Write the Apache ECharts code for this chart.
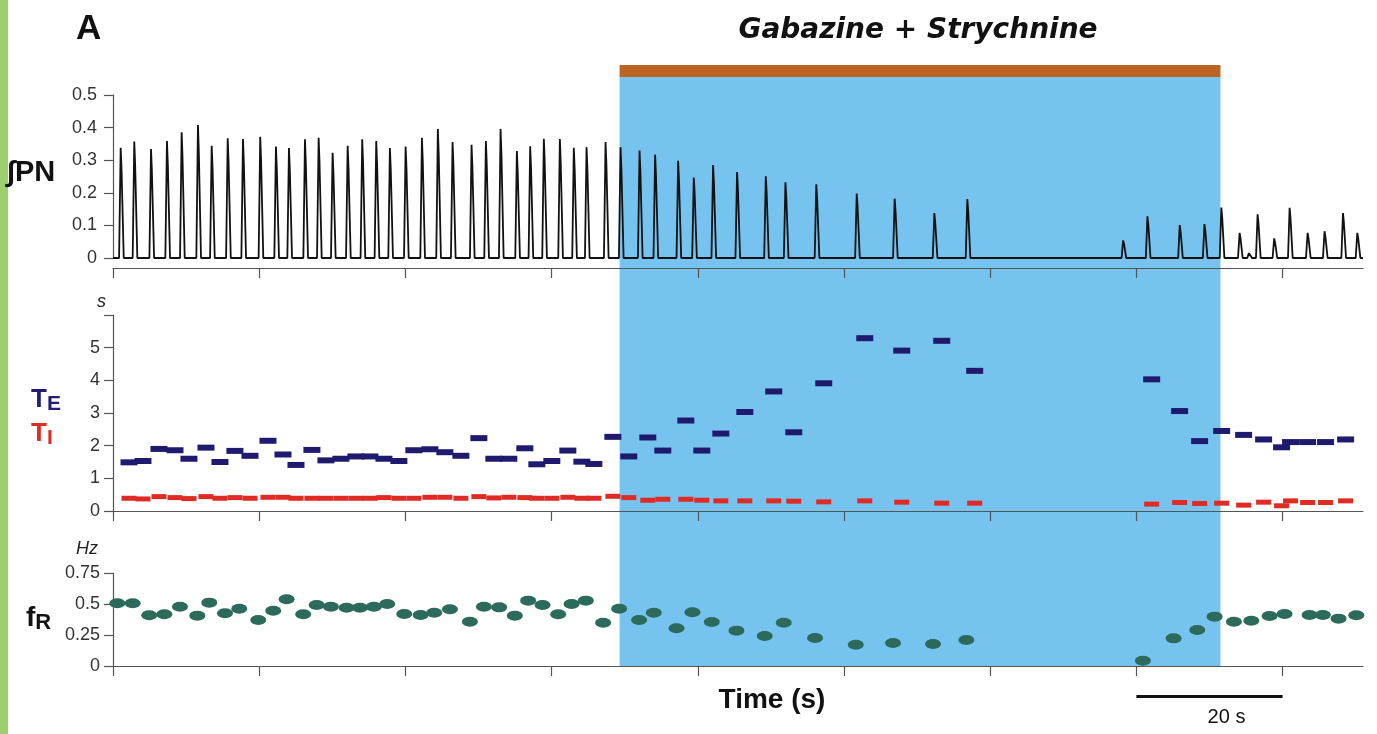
<!DOCTYPE html>
<html><head><meta charset="utf-8">
<script src="https://cdn.jsdelivr.net/npm/echarts@6/dist/echarts.min.js"></script>
<style>html,body{margin:0;padding:0;background:#fff}#c{width:1377px;height:734px}</style>
</head><body><div id="c"></div>
<script>
// ---- data ----
const xTicks = [0, 20, 40, 60, 80, 100, 120, 140, 160];
const pnTicks = [0, 0.1, 0.2, 0.3, 0.4, 0.5];
const tTicks = [0, 1, 2, 3, 4, 5, 6];
const tLabels = [0, 1, 2, 3, 4, 5];
const fTicks = [0, 0.25, 0.5, 0.75];
const drugStart = 69.3, drugEnd = 151.5;
const scaleBar = [140, 160];

// integrated phrenic burst peaks (time s, amplitude)
const spikeTimes = [1.05,2.91,5.20,7.38,9.39,11.62,13.50,15.69,17.78,20.14,22.29,24.07,26.26,28.13,30.04,32.10,34.09,36.01,37.88,40.03,42.26,44.44,46.45,49.05,51.01,53.02,55.25,57.07,58.94,61.13,63.04,64.78,67.38,69.43,72.03,74.16,77.31,79.45,82.09,85.37,89.30,91.99,96.21,101.74,106.93,112.36,116.87,138.19,141.51,145.93,149.31,151.62,154.12,155.39,156.58,158.85,160.96,163.42,165.74,168.26,170.22];
const spikeAmps = [0.338,0.357,0.334,0.359,0.386,0.408,0.344,0.367,0.365,0.372,0.342,0.337,0.364,0.369,0.323,0.344,0.364,0.359,0.337,0.342,0.369,0.396,0.356,0.347,0.359,0.396,0.328,0.343,0.366,0.365,0.338,0.340,0.356,0.340,0.330,0.317,0.298,0.247,0.285,0.264,0.251,0.232,0.226,0.198,0.182,0.138,0.181,0.054,0.128,0.101,0.104,0.155,0.077,0.015,0.134,0.060,0.154,0.077,0.082,0.138,0.077];

// breath-by-breath TE and TI (s)
const breathTimes = [2.19,4.10,6.29,8.48,10.39,12.72,14.63,16.68,18.74,21.20,23.25,25.03,27.21,29.13,31.18,33.23,35.15,37.06,39.11,41.16,43.35,45.40,47.59,50.05,52.10,54.15,56.34,57.98,60.03,62.22,64.14,65.78,68.38,70.56,73.16,75.21,78.36,80.55,83.15,86.43,90.39,93.13,97.23,102.84,107.90,113.37,117.88,142.09,145.91,148.65,151.66,154.67,157.40,159.86,161.09,163.42,165.88,168.62];
const teValues = [1.49,1.53,1.90,1.86,1.60,1.94,1.50,1.84,1.69,2.15,1.73,1.41,1.87,1.55,1.60,1.67,1.67,1.60,1.53,1.86,1.89,1.80,1.69,2.23,1.60,1.60,1.92,1.43,1.53,1.85,1.51,1.44,2.27,1.67,2.25,1.85,2.77,1.85,2.37,3.03,3.66,2.41,3.91,5.29,4.91,5.21,4.29,4.03,3.06,2.14,2.45,2.33,2.19,1.95,2.11,2.11,2.11,2.19];
const tiValues = [0.39,0.37,0.44,0.41,0.38,0.44,0.39,0.41,0.39,0.42,0.42,0.39,0.39,0.39,0.39,0.39,0.39,0.41,0.39,0.39,0.42,0.42,0.39,0.44,0.40,0.42,0.41,0.39,0.39,0.42,0.39,0.39,0.45,0.41,0.33,0.36,0.36,0.33,0.31,0.31,0.31,0.30,0.28,0.31,0.27,0.24,0.24,0.21,0.26,0.23,0.24,0.18,0.27,0.16,0.31,0.26,0.26,0.31];

// respiratory frequency (Hz)
const frTimes = [0.59,2.69,4.96,7.02,9.16,11.53,13.17,15.32,17.27,19.87,21.92,23.75,26.02,27.86,29.81,31.96,33.78,35.69,37.51,39.84,42.08,43.94,46.09,48.82,50.74,52.83,54.97,56.79,58.76,60.90,62.73,64.68,67.05,69.24,71.97,73.98,77.09,79.27,81.91,85.29,89.16,91.76,96.04,101.61,106.71,112.18,116.74,140.89,145.09,148.33,150.70,153.34,155.72,158.22,160.27,163.69,165.51,167.66,170.08];
const frValues = [0.506,0.506,0.409,0.417,0.478,0.406,0.511,0.425,0.462,0.371,0.446,0.538,0.417,0.492,0.478,0.470,0.470,0.478,0.500,0.419,0.411,0.430,0.457,0.357,0.478,0.473,0.406,0.527,0.492,0.417,0.500,0.527,0.349,0.462,0.371,0.430,0.304,0.433,0.355,0.285,0.242,0.349,0.226,0.172,0.185,0.177,0.210,0.043,0.223,0.290,0.398,0.357,0.365,0.403,0.419,0.411,0.411,0.382,0.409];

// ---- build ----
const FONT = '"Liberation Sans", Arial, sans-serif';
const AX = '#555';
const trace = [[0, 0]];
spikeTimes.forEach((t, i) => {
  trace.push([t - 0.22, 0], [t, spikeAmps[i]], [t + 0.12, spikeAmps[i] * 0.8], [t + 0.42, 0]);
});
trace.push([171, 0]);

const te = breathTimes.map((t, i) => [t, teValues[i]]);
const ti = breathTimes.map((t, i) => [t, tiValues[i]]);
const fr = frTimes.map((t, i) => [t, frValues[i]]);

const grids = [
  {left: 113, width: 1250, top: 95, height: 163},
  {left: 113, width: 1250, top: 315, height: 196},
  {left: 113, width: 1250, top: 573, height: 93}
];
function xAx(gi, offset) {
  return {
    type: 'value', gridIndex: gi, min: 0, max: 171, interval: 20, offset: offset,
    axisLine: {show: true, onZero: false, lineStyle: {color: AX, width: 1.2}},
    axisTick: {show: true, length: 10, customValues: xTicks, lineStyle: {color: AX, width: 1.2}},
    axisLabel: {show: false}, splitLine: {show: false}
  };
}
function yAx(gi, min, max, interval, ticks, labels, offset, fmt) {
  return {
    type: 'value', gridIndex: gi, min: min, max: max, interval: interval, offset: offset || 0,
    axisLine: {show: true, lineStyle: {color: AX, width: 1.2}},
    axisTick: {show: true, length: 9, customValues: ticks, lineStyle: {color: AX, width: 1.2}},
    axisLabel: {show: true, customValues: labels, margin: 13, color: '#333', fontSize: 18, fontFamily: FONT, formatter: fmt},
    splitLine: {show: false}
  };
}

const chart = echarts.init(document.getElementById('c'));
chart.setOption({
  animation: false,
  backgroundColor: '#fff',
  grid: grids,
  xAxis: [xAx(0, 10), xAx(1, 0), xAx(2, 0)],
  yAxis: [
    yAx(0, 0, 0.5, 0.1, pnTicks, pnTicks, 3, v => v === 0 ? '0' : v.toFixed(1)),
    yAx(1, 0, 6, 1, tTicks, tLabels, 0, v => String(v)),
    yAx(2, 0, 0.75, 0.25, fTicks, fTicks, 0, v => String(v))
  ],
  series: [
    {type: 'line', xAxisIndex: 0, yAxisIndex: 0, data: trace, showSymbol: false, symbol: 'none',
     lineStyle: {color: '#111', width: 1.8}, z: 3},
    {type: 'scatter', xAxisIndex: 1, yAxisIndex: 1, data: te, symbol: 'rect', symbolSize: [17, 6],
     itemStyle: {color: '#201a6e', opacity: 1}, z: 3},
    {type: 'scatter', xAxisIndex: 1, yAxisIndex: 1, data: ti, symbol: 'rect', symbolSize: [15, 5],
     itemStyle: {color: '#e02a24', opacity: 1}, z: 3},
    {type: 'scatter', xAxisIndex: 2, yAxisIndex: 2, data: fr, symbol: 'circle', symbolSize: [16, 10],
     itemStyle: {color: '#2c6b5c', opacity: 1}, z: 3}
  ]
});

const x0 = chart.convertToPixel({xAxisIndex: 0}, drugStart);
const x1 = chart.convertToPixel({xAxisIndex: 0}, drugEnd);
const s0 = chart.convertToPixel({xAxisIndex: 2}, scaleBar[0]);
const s1 = chart.convertToPixel({xAxisIndex: 2}, scaleBar[1]);
const yTop = 77, yBot = chart.convertToPixel({yAxisIndex: 2}, 0);

chart.setOption({
  graphic: [
    {type: 'rect', z: -1, shape: {x: 0, y: 0, width: 8, height: 734}, style: {fill: '#9dcf6f'}},
    {type: 'rect', z: -1, shape: {x: x0, y: yTop, width: x1 - x0, height: yBot - yTop}, style: {fill: '#77c3ef'}},
    {type: 'rect', z: -1, shape: {x: x0, y: 65, width: x1 - x0, height: 12}, style: {fill: '#bd6424'}},
    {type: 'text', x: 76, y: 12, style: {text: 'A', font: 'bold 35px ' + FONT, fill: '#111'}},
    {type: 'text', x: 918, y: 17, style: {text: 'Gabazine + Strychnine', font: 'italic bold 28px "DejaVu Sans", ' + FONT, fill: '#111', align: 'center'}},
    {type: 'text', x: 7, y: 158, style: {text: '\u222BPN', font: 'bold 29px ' + FONT, fill: '#111'}},
    {type: 'text', x: 97, y: 293, style: {text: 's', font: 'italic 18px ' + FONT, fill: '#222'}},
    {type: 'text', x: 31, y: 384, style: {rich: {a: {font: 'bold 26px ' + FONT, fill: '#231c73'}, b: {font: 'bold 21px ' + FONT, fill: '#231c73', padding: [10, 0, 0, 0]}}, text: '{a|T}{b|E}'}},
    {type: 'text', x: 31, y: 418, style: {rich: {a: {font: 'bold 26px ' + FONT, fill: '#e02a24'}, b: {font: 'bold 21px ' + FONT, fill: '#e02a24', padding: [10, 0, 0, 0]}}, text: '{a|T}{b|I}'}},
    {type: 'text', x: 76, y: 540, style: {text: 'Hz', font: 'italic 18px ' + FONT, fill: '#222'}},
    {type: 'text', x: 26, y: 602, style: {rich: {a: {font: 'bold 28px ' + FONT, fill: '#111'}, b: {font: 'bold 22px ' + FONT, fill: '#111', padding: [10, 0, 0, 0]}}, text: '{a|f}{b|R}'}},
    {type: 'text', x: 772, y: 686, style: {text: 'Time (s)', font: 'bold 28px ' + FONT, fill: '#111', align: 'center'}},
    {type: 'rect', shape: {x: s0, y: 695, width: s1 - s0, height: 3}, style: {fill: '#111'}},
    {type: 'text', x: (s0 + s1) / 2 + 17, y: 707, style: {text: '20 s', font: '20px ' + FONT, fill: '#111', align: 'center'}}
  ]
});
</script></body></html>
